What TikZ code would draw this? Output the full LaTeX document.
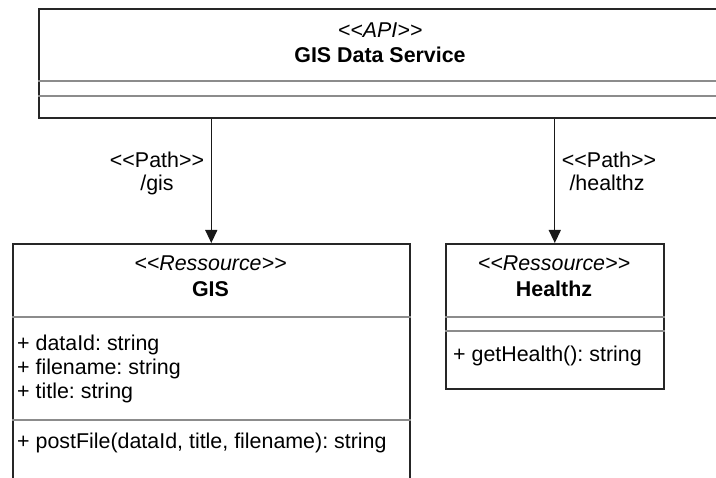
\documentclass[tikz,border=0pt]{standalone}
\usepackage{fontspec}
\setmainfont{Liberation Sans}[Ligatures=TeXOff]
\usetikzlibrary{arrows.meta}
\newcommand{\umlsize}{\fontsize{21.4}{24}\selectfont\frenchspacing}
\begin{document}
\begin{tikzpicture}[x=1pt,y=-1pt,
  umlbox/.style={draw=black!85, line width=1.6pt, inner sep=0pt, fill=white},
  sep/.style={draw=black!45, line width=1.2pt},
  txt/.style={inner sep=0pt, anchor=base, font=\umlsize},
  stereo/.style={txt, font=\umlsize\itshape},
  cname/.style={txt, font=\umlsize\bfseries},
  member/.style={txt, anchor=base west},
  link/.style={draw=black!90, line width=1.3pt, -{Triangle[width=12pt,length=13pt]}},
]
\useasboundingbox (0,0) rectangle (716,478);

% class boxes
\node[umlbox, minimum width=684pt, minimum height=109pt, anchor=north west] (api) at (38,8) {};
\node[umlbox, minimum width=397pt, minimum height=245pt, anchor=north west] (gis) at (12,243) {};
\node[umlbox, minimum width=218pt, minimum height=145pt, anchor=north west] (health) at (445,243) {};

% compartment separators
\draw[sep] (api.west |- 0,81) -- (api.east |- 0,81);
\draw[sep] (api.west |- 0,96) -- (api.east |- 0,96);
\draw[sep] (gis.west |- 0,317) -- (gis.east |- 0,317);
\draw[sep] (gis.west |- 0,420) -- (gis.east |- 0,420);
\draw[sep] (health.west |- 0,317) -- (health.east |- 0,317);
\draw[sep] (health.west |- 0,331) -- (health.east |- 0,331);

% API class
\node[stereo] (apist) at (380,37.5) {<<API>>};
\node[cname] (apiname) at (380,63) {GIS Data Service};

% GIS resource
\node[stereo] (gisst) at (210.5,271) {<<Ressource>>};
\node[cname] (gisname) at (210.5,296.5) {GIS};
\node[member] (gisa1) at (17,351) {+ dataId: string};
\node[member] (gisa2) at (17,375) {+ filename: string};
\node[member] (gisa3) at (17,398.5) {+ title: string};
\node[member] (gism1) at (17,449) {+ postFile(dataId, title, filename): string};

% Healthz resource
\node[stereo] (healthst) at (554,271) {<<Ressource>>};
\node[cname] (healthname) at (554,296.5) {Healthz};
\node[member] (healthm1) at (453,362) {+ getHealth(): string};

% paths
\draw[link] (api.south -| gis.north) -- (gis.north);
\draw[link] (api.south -| health.north) -- (health.north);
\node[txt] (gispath) at (157,168) {<<Path>>};
\node[txt] (gisurl) at (157,191) {/gis};
\node[txt] (healthpath) at (609,168) {<<Path>>};
\node[txt] (healthurl) at (607,191) {/healthz};
\end{tikzpicture}
\end{document}
